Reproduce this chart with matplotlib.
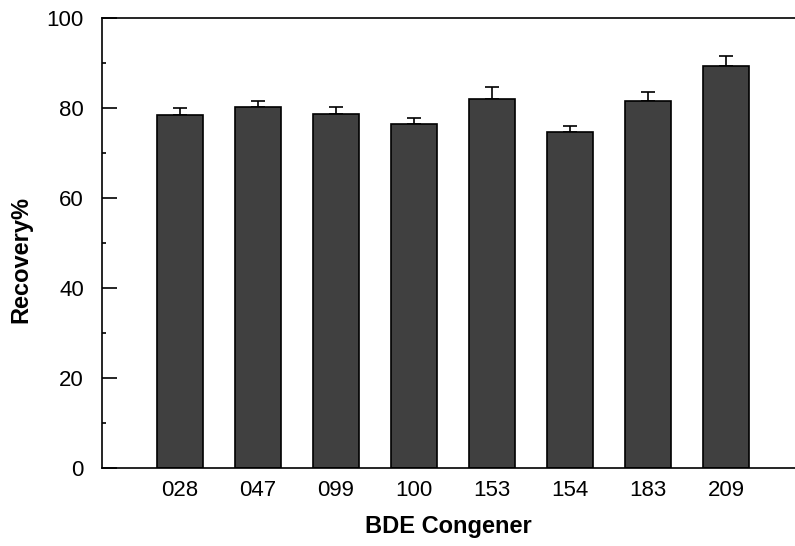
import matplotlib.pyplot as plt
import numpy as np

plt.rcParams['font.family'] = ['Liberation Sans', 'DejaVu Sans']

congeners = ["028", "047", "099", "100", "153", "154", "183", "209"]
recovery = [78.4, 80.2, 78.7, 76.5, 82.1, 74.7, 81.6, 89.4]
errors = [1.7, 1.4, 1.6, 1.3, 2.6, 1.4, 1.9, 2.2]

fig = plt.figure(figsize=(7.95, 5.46), dpi=100)
ax = fig.add_axes([102 / 795, 1 - 468 / 546, 1 - 102 / 795, 450 / 546])

x = np.arange(1, len(congeners) + 1)
ax.bar(x, recovery, width=0.6, color="#404040", edgecolor="black", linewidth=1.2, zorder=2)
ax.errorbar(x, recovery, yerr=[np.zeros(len(errors)), errors], fmt="none",
            ecolor="black", elinewidth=1.2, capsize=5, capthick=1.2, zorder=1)

ax.set_xlim(0, 693 / 78)
ax.set_ylim(0, 100)
ax.set_xticks(x)
ax.set_xticklabels(congeners)
ax.set_yticks([0, 20, 40, 60, 80, 100])
ax.set_yticks([10, 30, 50, 70, 90], minor=True)
ax.tick_params(axis="y", which="major", direction="in", length=11, width=1.2, labelsize=16, pad=13)
ax.tick_params(axis="y", which="minor", direction="in", length=3, width=1.2)
ax.tick_params(axis="x", which="major", length=0, labelsize=16, pad=9)
ax.spines["right"].set_visible(False)
for s in ["left", "top", "bottom"]:
    ax.spines[s].set_linewidth(1.2)

ax.set_xlabel("BDE Congener", fontsize=17, fontweight="bold", labelpad=10)
ax.set_ylabel("Recovery%", fontsize=17, fontweight="bold")
ax.yaxis.set_label_coords(-0.101, 0.463)

fig.savefig("out.png", dpi=100)
